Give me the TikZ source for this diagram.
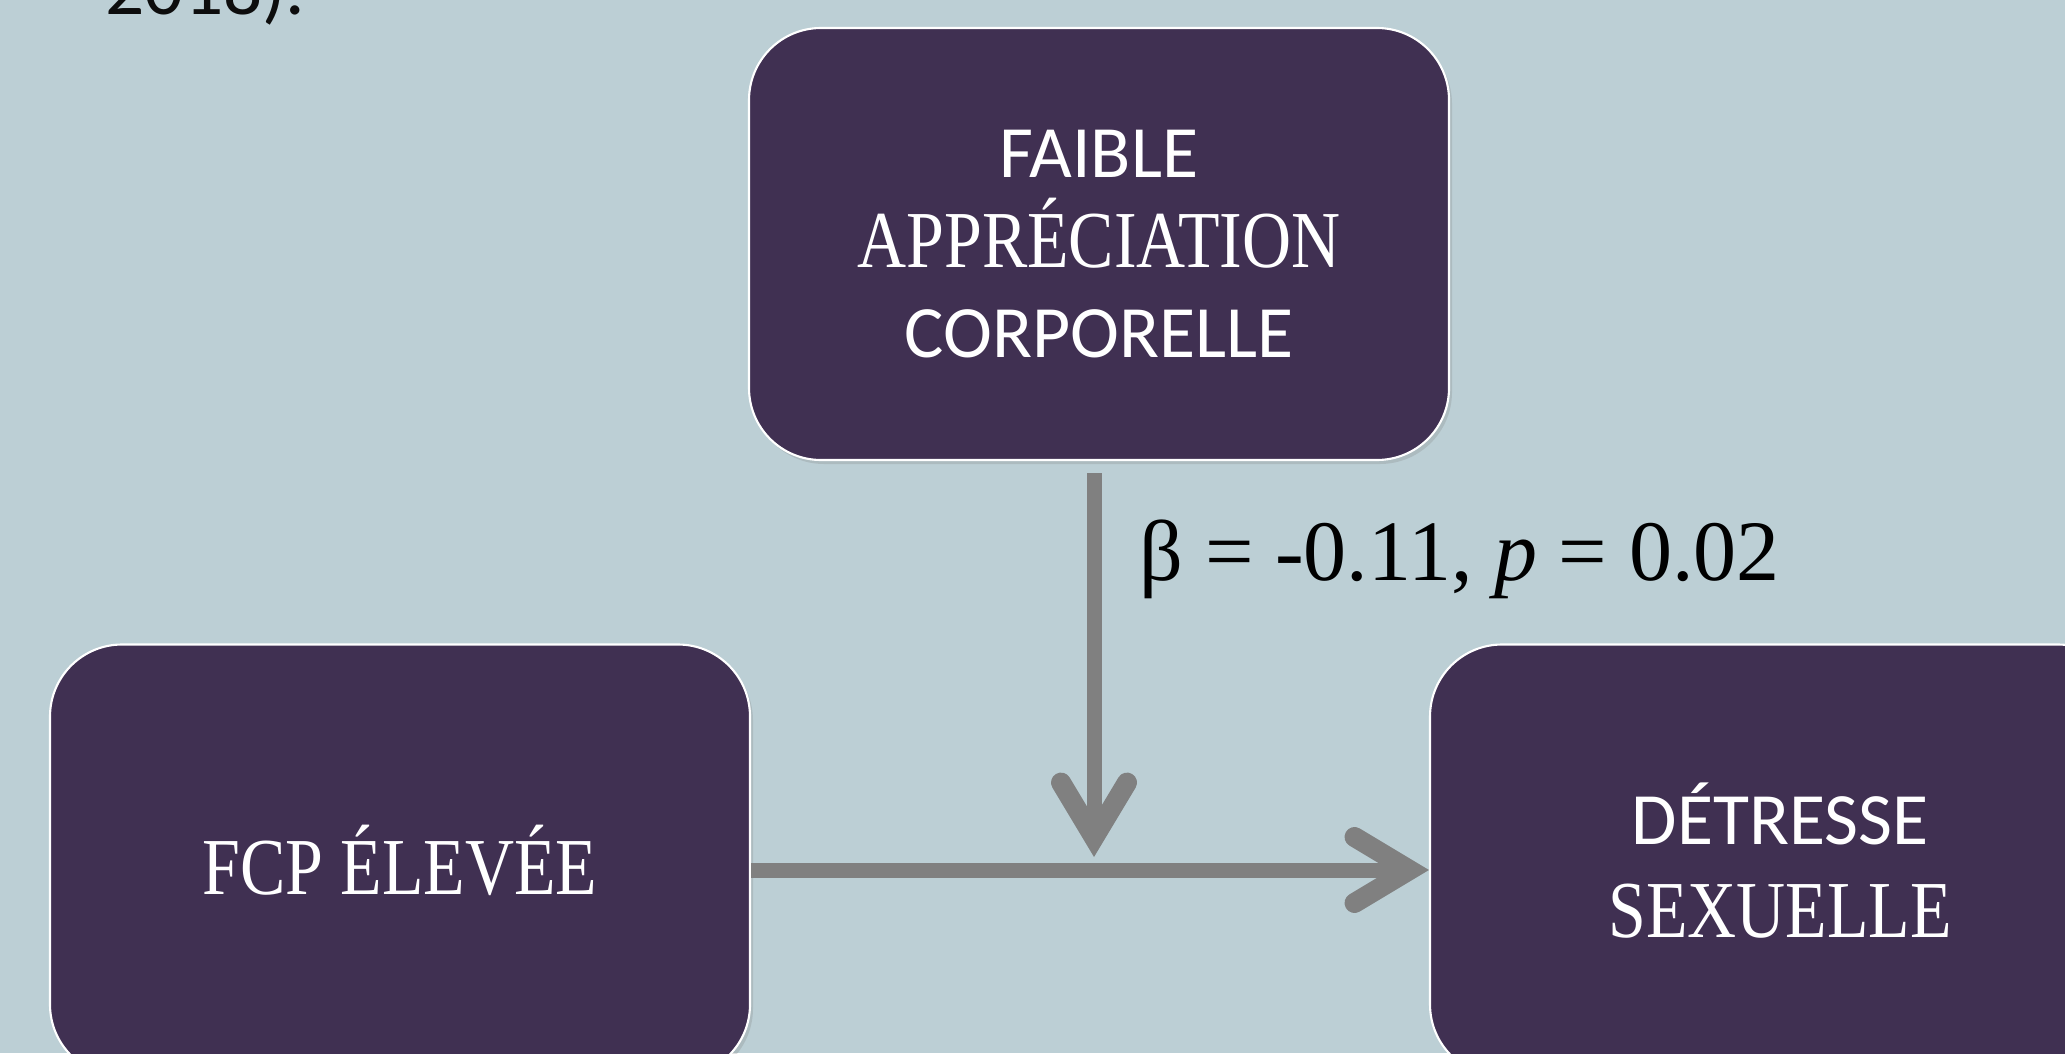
\documentclass[tikz,border=0pt]{standalone}
\usepackage{fontspec}
\usepackage{tikz}
\usetikzlibrary{arrows.meta,positioning,calc,shadows}
\setmainfont{Carlito}
\newfontfamily\narrowserif[FakeStretch=0.84]{Liberation Serif}
\newfontfamily\labelserif{Liberation Serif}
\definecolor{slidebg}{RGB}{188,207,213}
\definecolor{boxpurple}{RGB}{64,48,82}
\definecolor{arrowgray}{RGB}{128,128,128}
\newcommand \serifline[1]{{\narrowserif\fontsize{23}{26}\selectfont #1}}

\begin{document}
\begin{tikzpicture}[line join=round,
  varbox/.style={draw=white, line width=0.6pt, fill=boxpurple, text=white,
    rounded corners=0.72cm, minimum width=7cm, minimum height=4.32cm,
    align=center, font=\fontsize{21}{25.5}\selectfont,
    drop shadow={opacity=0.25, shadow xshift=0.03cm, shadow yshift=-0.04cm}},
  flow/.style={draw=arrowgray, line width=0.15cm,
    -{Straight Barb[length=0.55cm, width=0.66cm, line width=0.2cm, line cap=round]}}]
\path[use as bounding box, fill=slidebg] (0,0) rectangle (20.65,10.53);
\clip (0,0) rectangle (20.65,10.53);
% texte coupe en haut
\node[anchor=base west, inner sep=0, text=black!95, font=\fontsize{22}{26}\selectfont] (prev) at (1.05,10.38) {2018).};
% les trois variables
\node[varbox] (faible)   at (10.99,8.09)  {FAIBLE\\ \serifline{APPRÉCIATION}\\ CORPORELLE};
\node[varbox] (fcp)      at (4.00,1.925)  {\serifline{FCP ÉLEVÉE}};
\node[varbox, font=\fontsize{21}{26.5}\selectfont] (detresse) at (17.80,1.925) {DÉTRESSE\\ \serifline{SEXUELLE}};
% effet principal et moderation
\coordinate (meet) at ([xshift=-0.05cm]faible.south |- fcp.east);
\draw[flow] ([yshift=-0.095cm]fcp.east) -- ([yshift=-0.095cm]detresse.west);
\draw[flow] ([xshift=-0.05cm,yshift=-0.12cm]faible.south) -- ([yshift=0.035cm]meet);
\node[anchor=base west, inner sep=0, font=\labelserif\fontsize{24.5}{28}\selectfont] (beta) at (11.39,4.73) {β = -0.11, \textit{p} = 0.02};
\end{tikzpicture}
\end{document}
